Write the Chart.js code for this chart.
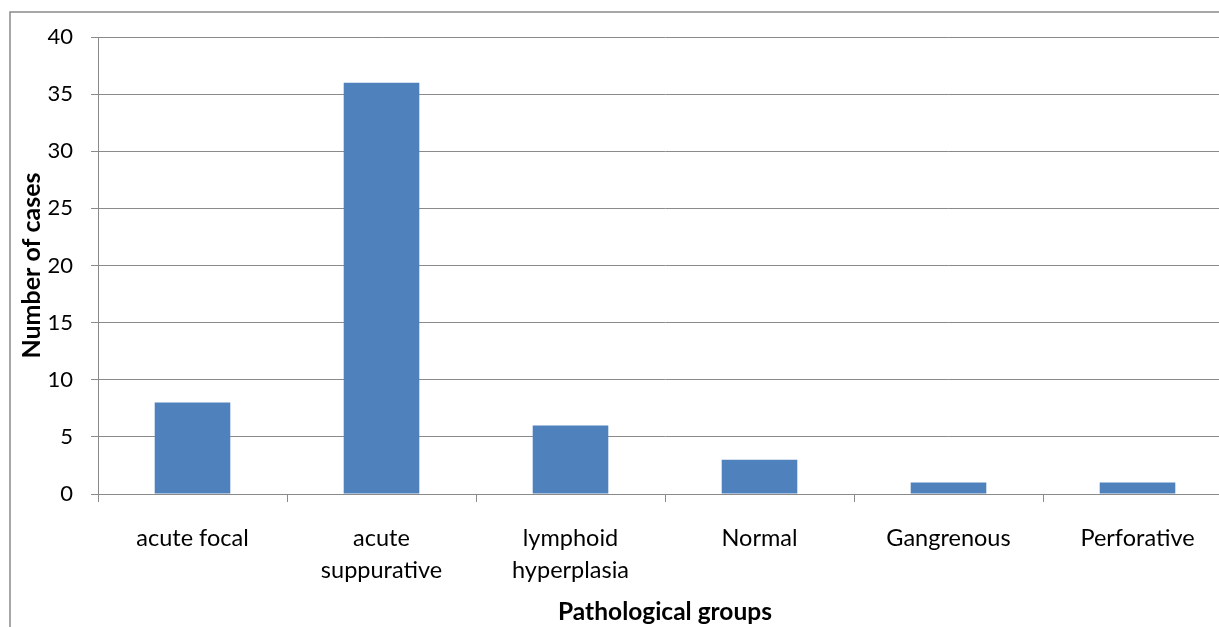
<!DOCTYPE html>
<html>
<head>
<meta charset="utf-8">
<script src="https://cdn.jsdelivr.net/npm/chart.js@4/dist/chart.umd.min.js"></script>
<style>
  html, body { margin: 0; padding: 0; background: #fff; overflow: hidden; width: 1219px; height: 627px; }
  #wrap { position: absolute; left: 0; top: 0; width: 1240px; height: 627px; }
</style>
</head>
<body>
<div id="wrap"><canvas id="c" width="1240" height="627"></canvas></div>
<script>
const categories = [['acute focal'], ['acute', 'suppurative'], ['lymphoid', 'hyperplasia'], ['Normal'], ['Gangrenous'], ['Perforative']];
const caseCounts = [8, 36, 6, 3, 1, 1];
const yAxisTitle = 'Number of cases';
const xAxisTitle = 'Pathological groups';

const FONT = 'Lato, "Open Sans", sans-serif';
const GRID = '#8a8a8a';

const borderPlugin = {
  id: 'outerBorder',
  afterDraw(chart) {
    const ctx = chart.ctx;
    ctx.save();
    ctx.strokeStyle = '#8a8a8a';
    ctx.lineWidth = 1.5;
    ctx.strokeRect(10, 12, 1400, 800);
    ctx.restore();
  }
};

new Chart(document.getElementById('c'), {
  type: 'bar',
  data: {
    labels: categories,
    datasets: [{
      data: caseCounts,
      backgroundColor: '#4F81BD',
      borderWidth: 0,
      barPercentage: 0.4,
      categoryPercentage: 1.0
    }]
  },
  options: {
    responsive: false,
    animation: false,
    devicePixelRatio: 1,
    layout: { padding: { top: 37, right: 8, bottom: 0, left: 0 } },
    plugins: { legend: { display: false }, tooltip: { enabled: false } },
    scales: {
      x: {
        grid: { offset: true, drawOnChartArea: false, drawTicks: true, tickLength: 8, color: GRID, lineWidth: 1 },
        border: { color: GRID, width: 1 },
        ticks: { color: '#000', font: { family: FONT, size: 23.5, lineHeight: 1.36 }, padding: 20, maxRotation: 0, autoSkip: false },
        title: { display: true, text: xAxisTitle, color: '#000', font: { family: FONT, size: 24.5, weight: 'bold' }, padding: { top: 0, bottom: 0 } },
        afterFit(s) { s.height = 133; }
      },
      y: {
        min: 0, max: 40,
        grid: { color: GRID, lineWidth: 1, tickLength: 7, drawTicks: true },
        border: { color: GRID, width: 1 },
        ticks: { stepSize: 5, color: '#000', font: { family: FONT, size: 22 }, padding: 18 },
        title: { display: true, text: yAxisTitle, color: '#000', font: { family: FONT, size: 25, weight: 'bold' }, padding: { top: 17, bottom: 0 } },
        afterFit(s) { s.width = 98; }
      }
    }
  },
  plugins: [borderPlugin]
});
</script>
</body>
</html>
